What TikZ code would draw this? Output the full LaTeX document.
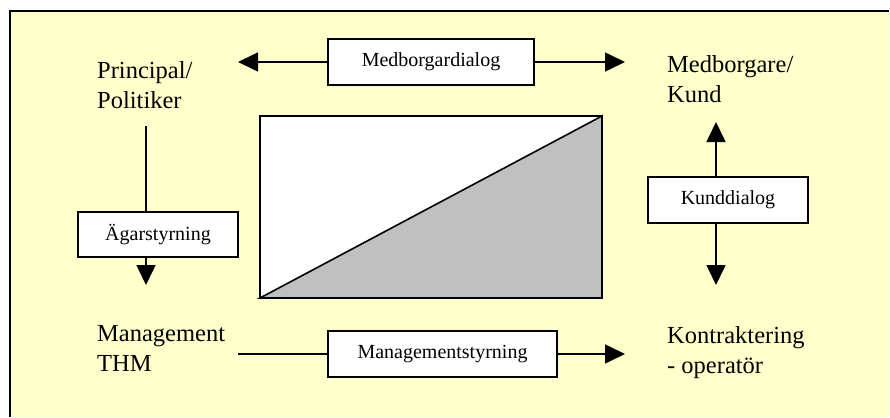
\documentclass[tikz,border=0pt]{standalone}
\usepackage{fontspec}
\setmainfont{Liberation Serif}
\usetikzlibrary{arrows.meta}
\definecolor{paleyellow}{HTML}{FFFFCC}
\definecolor{midgrey}{HTML}{C0C0C0}
\tikzset{
  role/.style={anchor=north west,inner sep=0pt,align=left,font=\fontsize{24.5}{30}\selectfont},
  dialog/.style={draw,fill=white,line width=1.6pt,inner sep=0pt,font=\fontsize{20}{24}\selectfont},
  flow/.style={line width=1.6pt,-{Triangle[length=20pt,width=19pt]}},
}
\begin{document}
\begin{tikzpicture}[x=1pt,y=-1pt]
  \useasboundingbox (0,0) rectangle (890,417);
  % background panel
  \fill [paleyellow] (10,11) rectangle (889,417);
  \draw [line width=2pt] (10,417) -- (10,11) -- (889,11);
  % centre square
  \draw [line width=1.6pt,fill=white] (260,116) rectangle (602,298);
  \filldraw [line width=1.6pt,fill=midgrey] (260,298) -- (602,116) -- (602,298) -- cycle;
  % roles
  \node [role] (princ) at (97,61) {Principal/\\Politiker};
  \node [role] (medb) at (667,55) {Medborgare/\\Kund};
  \node [role] (mgmt) at (97,325) {Management\\THM};
  \node [role] (kontr) at (667,326) {Kontraktering\\- operatör};
  % dialog boxes
  \node [dialog,minimum width=206pt,minimum height=46pt] (mdial) at (431,62) {Medborgardialog};
  \node [dialog,minimum width=160pt,minimum height=45pt] (agar) at (158,234.5) {Ägarstyrning};
  \node [dialog,minimum width=229pt,minimum height=46pt] (mstyr) at (442.5,354) {Managementstyrning};
  \node [dialog,minimum width=160pt,minimum height=46pt] (kdial) at (728,200) {Kunddialog};
  % connector ends
  \coordinate (mdL) at (238,62);
  \coordinate (mdR) at (625,62);
  \coordinate (agT) at (146,126);
  \coordinate (agB) at (146,285);
  \coordinate (msL) at (238,354);
  \coordinate (msR) at (625,354);
  \coordinate (kdT) at (716,122);
  \coordinate (kdB) at (716,285);
  % connectors
  \draw [flow] (mdial.west) -- (mdL);
  \draw [flow] (mdial.east) -- (mdR);
  \draw [line width=1.6pt] (agT) -- (agar.north -| agT);
  \draw [flow] (agar.south -| agB) -- (agB);
  \draw [line width=1.6pt] (msL) -- (mstyr.west);
  \draw [flow] (mstyr.east) -- (msR);
  \draw [flow] (kdial.north -| kdT) -- (kdT);
  \draw [flow] (kdial.south -| kdB) -- (kdB);
\end{tikzpicture}
\end{document}
